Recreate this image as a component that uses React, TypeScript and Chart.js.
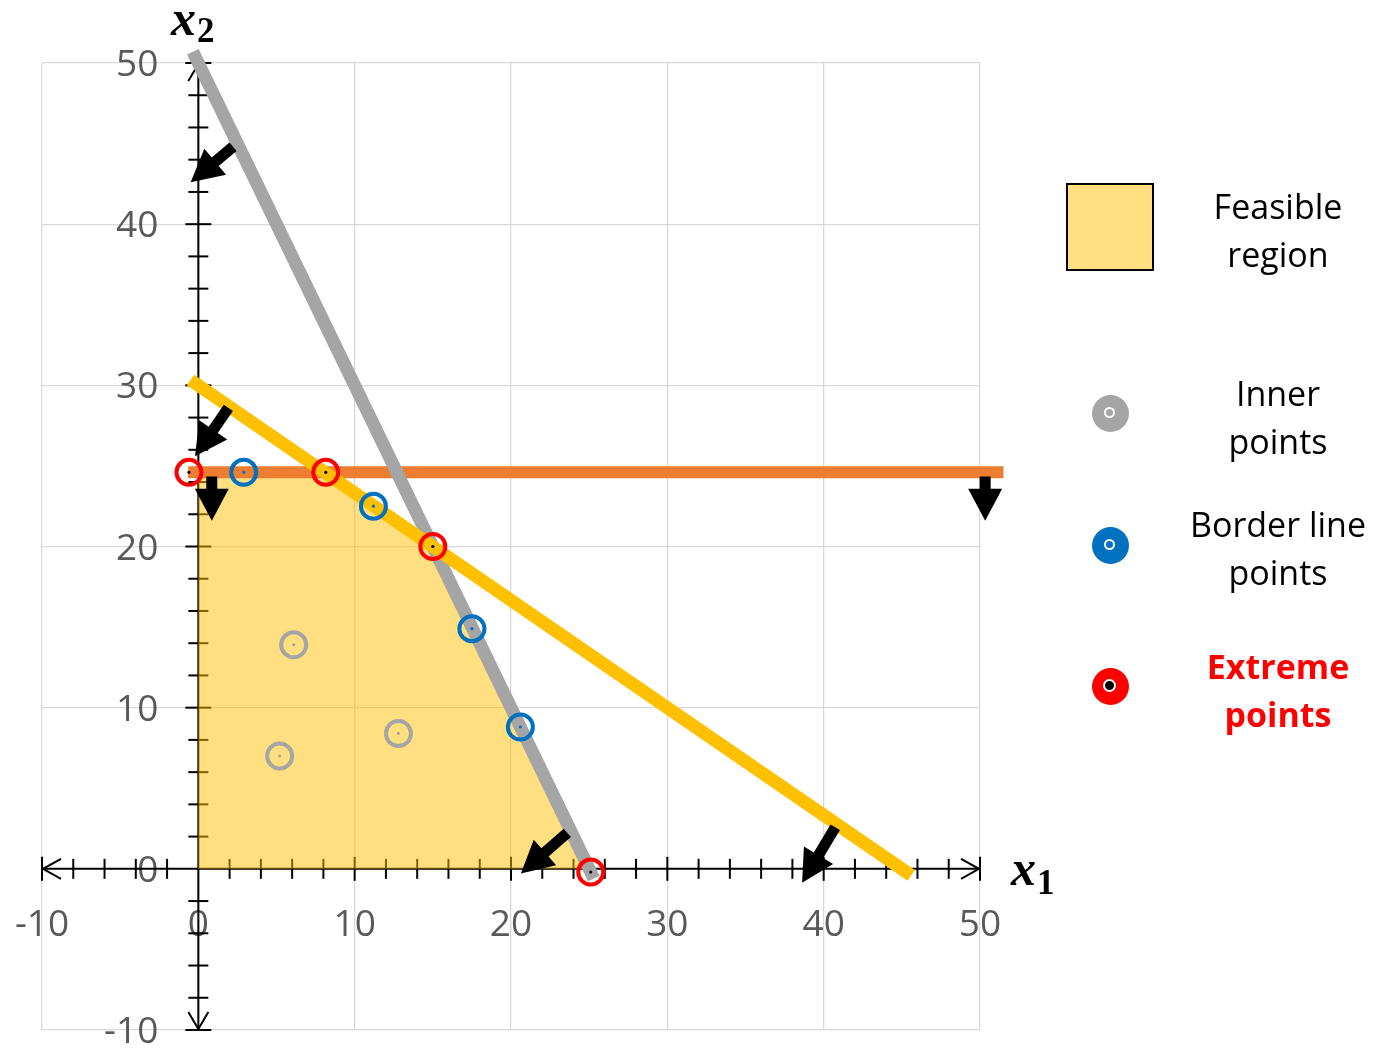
import React, { useEffect, useRef } from "react";
import { Chart, registerables } from "chart.js";

Chart.register(...registerables);

// ---- Data ----
const axisMin = -10;
const axisMax = 50;
const majorStep = 10;
const minorStep = 2;

const feasibleRegion = [
  [0, 0],
  [0, 24.6],
  [8.1, 24.6],
  [15, 20],
  [25, 0],
];
const constraintOrange = [
  [-0.65, 24.6],
  [51.5, 24.6],
];
const constraintGray = [
  [-0.35, 50.7],
  [25.3, -0.6],
];
const constraintYellow = [
  [-0.5, 30.33],
  [45.6, -0.4],
];
const innerPoints = [
  [6.1, 13.9],
  [5.2, 7.0],
  [12.8, 8.4],
];
const borderPoints = [
  [2.9, 24.6],
  [11.2, 22.5],
  [17.5, 14.9],
  [20.6, 8.8],
];
const extremePoints = [
  [-0.6, 24.6],
  [8.15, 24.6],
  [15, 20],
  [25.1, -0.2],
];
// direction arrows: [fromX, fromY, toX, toY]
const directionArrows = [
  [2.22, 44.8, -0.49, 42.6],
  [1.92, 28.6, -0.21, 25.6],
  [0.86, 24.35, 0.86, 21.6],
  [50.33, 24.35, 50.33, 21.6],
  [23.6, 2.23, 20.63, -0.29],
  [40.74, 2.58, 38.62, -0.86],
];

const toXY = (arr: number[][]) => arr.map(([x, y]) => ({ x, y }));

const LABEL_FONT = '37px "Open Sans", sans-serif';

const axesPlugin = {
  id: "crossAxes",
  beforeDatasetsDraw(chart: any) {
    const { ctx } = chart;
    const xs = chart.scales.x;
    const ys = chart.scales.y;
    const ox = xs.getPixelForValue(0);
    const oy = ys.getPixelForValue(0);
    const xl = xs.getPixelForValue(axisMin);
    const xr = xs.getPixelForValue(axisMax);
    const yb = ys.getPixelForValue(axisMin);
    const yt = ys.getPixelForValue(axisMax);

    ctx.save();
    // tick labels
    ctx.font = LABEL_FONT;
    ctx.fillStyle = "#595959";
    ctx.textBaseline = "alphabetic";
    ctx.textAlign = "center";
    xs.ticks.forEach((t: any) => {
      ctx.fillText(String(t.value), xs.getPixelForValue(t.value), oy + 54 + 13);
    });
    ctx.textAlign = "right";
    ys.ticks.forEach((t: any) => {
      ctx.fillText(String(t.value), ox - 40, ys.getPixelForValue(t.value) + 13);
    });

    ctx.strokeStyle = "#000";
    ctx.lineWidth = 2;
    const seg = (a: number, b: number, c: number, d: number) => {
      ctx.beginPath();
      ctx.moveTo(a, b);
      ctx.lineTo(c, d);
      ctx.stroke();
    };
    // axis lines
    seg(xl, oy, xr, oy);
    seg(ox, yb, ox, yt);
    // ticks
    for (let i = axisMin / minorStep; i <= axisMax / minorStep; i++) {
      const v = i * minorStep;
      if (v === 0) continue;
      const major = v % majorStep === 0;
      const px = xs.getPixelForValue(v);
      const py = ys.getPixelForValue(v);
      const lx = major ? 12 : 10;
      const ly = major ? 13 : 10;
      seg(px, oy - lx, px, oy + lx);
      seg(ox - ly, py, ox + ly, py);
    }
    // open arrowheads
    const chev = (ax: number, ay: number, b1x: number, b1y: number, b2x: number, b2y: number) => {
      ctx.beginPath();
      ctx.moveTo(b1x, b1y);
      ctx.lineTo(ax, ay);
      ctx.lineTo(b2x, b2y);
      ctx.stroke();
    };
    chev(xl + 1, oy, xl + 19, oy - 10, xl + 19, oy + 10);
    chev(xr - 1, oy, xr - 19, oy - 10, xr - 19, oy + 10);
    chev(ox, yt + 1, ox - 10, yt + 18, ox + 10, yt + 18);
    chev(ox, yb - 1, ox - 10, yb - 18, ox + 10, yb - 18);
    ctx.restore();
  },
  afterDatasetsDraw(chart: any) {
    const { ctx } = chart;
    const xs = chart.scales.x;
    const ys = chart.scales.y;
    ctx.save();
    ctx.fillStyle = "#000";
    directionArrows.forEach(([fx, fy, tx, ty]) => {
      const x0 = xs.getPixelForValue(fx);
      const y0 = ys.getPixelForValue(fy);
      const x1 = xs.getPixelForValue(tx);
      const y1 = ys.getPixelForValue(ty);
      const dx = x1 - x0;
      const dy = y1 - y0;
      const L = Math.hypot(dx, dy);
      const ux = dx / L;
      const uy = dy / L;
      const nx = -uy;
      const ny = ux;
      const H = 32;
      const hw = 17;
      const sw = 5.5;
      const bx = x1 - ux * H;
      const by = y1 - uy * H;
      ctx.beginPath();
      ctx.moveTo(x0 + nx * sw, y0 + ny * sw);
      ctx.lineTo(bx + nx * sw, by + ny * sw);
      ctx.lineTo(bx + nx * hw, by + ny * hw);
      ctx.lineTo(x1, y1);
      ctx.lineTo(bx - nx * hw, by - ny * hw);
      ctx.lineTo(bx - nx * sw, by - ny * sw);
      ctx.lineTo(x0 - nx * sw, y0 - ny * sw);
      ctx.closePath();
      ctx.fill();
    });
    ctx.restore();
  },
};

const circleSet = (data: number[][], color: string, order: number) => ({
  data: toXY(data),
  showLine: false,
  pointRadius: 12.5,
  pointHoverRadius: 12.5,
  pointBorderWidth: 4,
  pointHoverBorderWidth: 4,
  pointBorderColor: color,
  pointBackgroundColor: "rgba(0,0,0,0)",
  clip: false,
  order,
});
const dotSet = (data: number[][], color: string, order: number) => ({
  data: toXY(data),
  showLine: false,
  pointRadius: 1.6,
  pointHoverRadius: 1.6,
  pointBorderWidth: 0,
  pointBackgroundColor: color,
  clip: false,
  order,
});
const lineSet = (data: number[][], color: string, width: number, order: number) => ({
  data: toXY(data),
  showLine: true,
  borderColor: color,
  borderWidth: width,
  borderCapStyle: "butt",
  pointRadius: 0,
  pointHoverRadius: 0,
  fill: false,
  tension: 0,
  clip: false,
  order,
});

function App() {
  const ref = useRef<HTMLCanvasElement | null>(null);
  useEffect(() => {
    if (!ref.current) return;
    const chart = new Chart(ref.current, {
      type: "line",
      data: {
        datasets: [
          {
            data: toXY(feasibleRegion),
            showLine: true,
            borderWidth: 0,
            borderColor: "rgba(0,0,0,0)",
            backgroundColor: "rgba(255,192,0,0.5)",
            fill: "shape",
            pointRadius: 0,
            pointHoverRadius: 0,
            tension: 0,
            order: 20,
          } as any,
          lineSet(constraintOrange, "#ED7D31", 12, 12) as any,
          lineSet(constraintGray, "#A5A5A5", 13, 11) as any,
          lineSet(constraintYellow, "#FFC000", 13, 10) as any,
          circleSet(innerPoints, "#A5A5A5", 8) as any,
          dotSet(innerPoints, "#A5A5A5", 7) as any,
          circleSet(borderPoints, "#0070C0", 6) as any,
          dotSet(borderPoints, "#0070C0", 5) as any,
          circleSet(extremePoints, "#FF0000", 4) as any,
          dotSet(extremePoints, "#000000", 3) as any,
        ],
      },
      options: {
        responsive: false,
        animation: false,
        events: [],
        layout: { padding: { left: 42, top: 63, right: 396, bottom: 19 } },
        plugins: { legend: { display: false }, tooltip: { enabled: false } },
        scales: {
          x: {
            type: "linear",
            min: axisMin,
            max: axisMax,
            ticks: { stepSize: majorStep, display: false },
            grid: { color: "#D9D9D9", lineWidth: 1.3, drawTicks: false },
            border: { display: false },
          },
          y: {
            type: "linear",
            min: axisMin,
            max: axisMax,
            ticks: { stepSize: majorStep, display: false },
            grid: { color: "#D9D9D9", lineWidth: 1.3, drawTicks: false },
            border: { display: false },
          },
        },
      },
      plugins: [axesPlugin as any],
    });
    return () => chart.destroy();
  }, []);

  const txt: React.CSSProperties = {
    position: "absolute",
    width: 240,
    textAlign: "center",
    fontFamily: '"Open Sans", sans-serif',
    fontSize: 34,
    lineHeight: "48px",
    color: "#000",
  };
  const marker = (cx: number, cy: number, color: string, center: string, hole: number) => (
    <div
      style={{
        position: "absolute",
        left: cx - 18.5,
        top: cy - 18.5,
        width: 37,
        height: 37,
        borderRadius: "50%",
        background: color,
      }}
    >
      <div
        style={{
          position: "absolute",
          left: 18.5 - hole / 2 - 2.5,
          top: 18.5 - hole / 2 - 2.5,
          width: hole,
          height: hole,
          borderRadius: "50%",
          border: "2.5px solid #fff",
          background: center,
        }}
      />
    </div>
  );
  const math: React.CSSProperties = {
    position: "absolute",
    fontFamily: '"Liberation Serif", "DejaVu Serif", serif',
    fontWeight: "bold",
    lineHeight: 1,
    color: "#000",
    whiteSpace: "nowrap",
  };

  return (
    <div style={{ position: "absolute", left: 0, top: 0, width: 1376, height: 1049, background: "#fff" }}>
      <canvas ref={ref} width={1376} height={1049} style={{ display: "block" }} />
      <div style={{ ...math, left: 171, top: -7, fontSize: 50, fontStyle: "italic" }}>x</div>
      <div style={{ ...math, left: 197, top: 13, fontSize: 35 }}>2</div>
      <div style={{ ...math, left: 1011, top: 843, fontSize: 50, fontStyle: "italic" }}>x</div>
      <div style={{ ...math, left: 1037, top: 865, fontSize: 35 }}>1</div>

      <div
        style={{
          position: "absolute",
          left: 1066,
          top: 183,
          width: 84,
          height: 84,
          background: "#FFDF80",
          border: "2px solid #000",
        }}
      />
      <div style={{ ...txt, left: 1158, top: 182 }}>
        Feasible
        <br />
        region
      </div>
      {marker(1110, 413, "#A5A5A5", "#A5A5A5", 7)}
      <div style={{ ...txt, left: 1158, top: 369 }}>
        Inner
        <br />
        points
      </div>
      {marker(1110, 545, "#0070C0", "#0070C0", 7)}
      <div style={{ ...txt, left: 1158, top: 500 }}>
        Border line
        <br />
        points
      </div>
      {marker(1110, 686, "#FF0000", "#000000", 9)}
      <div style={{ ...txt, left: 1158, top: 642, color: "#FF0000", fontWeight: "bold" }}>
        Extreme
        <br />
        points
      </div>
    </div>
  );
}

export default App;
